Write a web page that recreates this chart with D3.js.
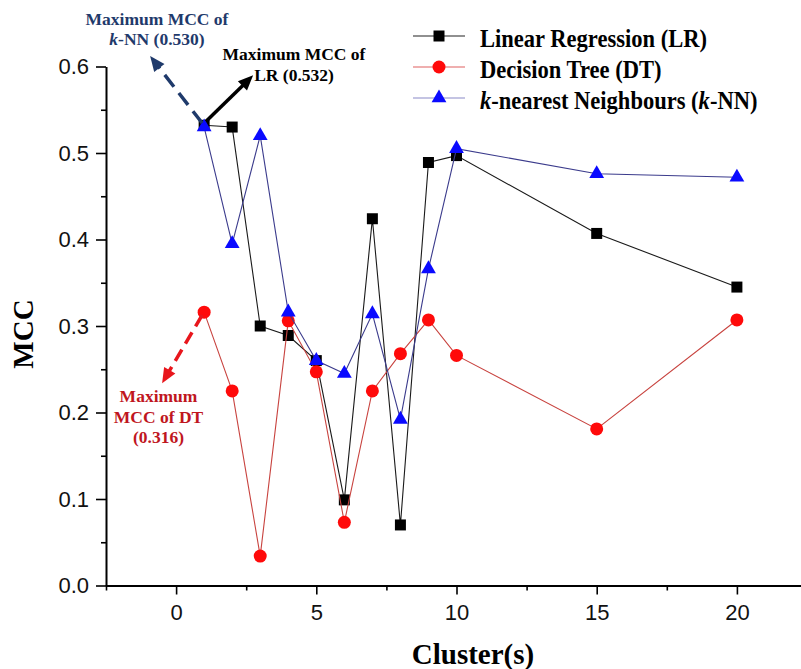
<!DOCTYPE html>
<html><head><meta charset="utf-8">
<script src="https://cdn.jsdelivr.net/npm/d3@7"></script>
<style>body{margin:0;background:#fff;overflow:hidden}</style>
</head><body>
<svg id="c" width="801" height="669" xmlns="http://www.w3.org/2000/svg"></svg>
<script>
// ---- data ----
const clusters   = [1, 2, 3, 4, 5, 6, 7, 8, 9, 10, 15, 20];
const lrValues   = [0.532, 0.530, 0.300, 0.289, 0.260, 0.099, 0.424, 0.070, 0.489, 0.497, 0.407, 0.345];
const dtValues   = [0.316, 0.225, 0.034, 0.306, 0.247, 0.073, 0.225, 0.268, 0.307, 0.266, 0.181, 0.307];
const knnValues  = [0.530, 0.395, 0.520, 0.316, 0.260, 0.245, 0.314, 0.192, 0.366, 0.505, 0.476, 0.472];
const seriesNames = ["Linear Regression (LR)", "Decision Tree (DT)", "k-nearest Neighbours (k-NN)"];
const xMajorTicks = [0, 5, 10, 15, 20];
const xMinorTicks = [-2.5, 2.5, 7.5, 12.5, 17.5, 22.5];
const yMajorTicks = [0, 0.1, 0.2, 0.3, 0.4, 0.5, 0.6];
const yMinorTicks = [0.05, 0.15, 0.25, 0.35, 0.45, 0.55];
const xTitle = "Cluster(s)";
const yTitle = "MCC";

// ---- layout ----
const SERIF = "'Liberation Serif','Times New Roman',serif";
const SANS = "'Liberation Sans',Arial,sans-serif";
const svg = d3.select("#c");
const x = d3.scaleLinear().domain([-2.5, 22.5]).range([106, 807]);
const y = d3.scaleLinear().domain([0, 0.6]).range([585.5, 66.5]);

// ---- axes ----
function styleAxis(g) {
  g.select(".domain").attr("stroke", "#000").attr("stroke-width", 2);
  g.selectAll(".tick line").attr("stroke", "#000").attr("stroke-width", 1.6);
  g.selectAll("text").attr("font-family", SANS).attr("font-size", 22).attr("fill", "#111");
}
// minor ticks
svg.append("g").attr("transform", `translate(0,${y(0)})`)
  .call(d3.axisBottom(x).tickValues(xMinorTicks).tickSize(5).tickFormat(""))
  .call(g => { styleAxis(g); g.select(".domain").remove(); });
svg.append("g").attr("transform", `translate(${x(-2.5)},0)`)
  .call(d3.axisLeft(y).tickValues(yMinorTicks).tickSize(5).tickFormat(""))
  .call(g => { styleAxis(g); g.select(".domain").remove(); });
// major
svg.append("g").attr("transform", `translate(0,${y(0)})`)
  .call(d3.axisBottom(x).tickValues(xMajorTicks).tickSize(9).tickSizeOuter(0).tickPadding(10).tickFormat(d3.format("d")))
  .call(styleAxis);
svg.append("g").attr("transform", `translate(${x(-2.5)},0)`)
  .call(d3.axisLeft(y).tickValues(yMajorTicks).tickSize(10).tickSizeOuter(0).tickPadding(7).tickFormat(d3.format(".1f")))
  .call(styleAxis);

// axis titles
svg.append("text").attr("x", 473).attr("y", 664).attr("text-anchor", "middle")
  .attr("font-family", SERIF).attr("font-weight", "bold").attr("font-size", 29).text(xTitle);
svg.append("text").attr("transform", "translate(33,334) rotate(-90)").attr("text-anchor", "middle")
  .attr("font-family", SERIF).attr("font-weight", "bold").attr("font-size", 29).text(yTitle);

// ---- series ----
const symSquare = d3.symbol().type(d3.symbolSquare).size(121);
const symCircle = d3.symbol().type(d3.symbolCircle).size(Math.PI * 6.5 * 6.5);
const symTri = d3.symbol().type(d3.symbolTriangle).size(95);
const series = [
  { name: seriesNames[0], values: lrValues, line: "#1a1a1a", fill: "#000000", sym: symSquare, legLine: "#222" },
  { name: seriesNames[1], values: dtValues, line: "#c8433f", fill: "#ff0a0a", sym: symCircle, legLine: "#e06060" },
  { name: seriesNames[2], values: knnValues, line: "#3b3b8c", fill: "#0a0aff", sym: symTri, legLine: "#8a8ac8" }
];
const line = d3.line().x(d => x(d[0])).y(d => y(d[1]));
series.forEach(s => {
  const pts = clusters.map((c, i) => [c, s.values[i]]);
  svg.append("path").attr("d", line(pts)).attr("fill", "none").attr("stroke", s.line).attr("stroke-width", 1.1);
  svg.append("g").selectAll("path").data(pts).join("path")
    .attr("transform", d => `translate(${x(d[0])},${y(d[1])})`)
    .attr("d", s.sym).attr("fill", s.fill);
});

// ---- legend ----
const legRows = [36, 67, 98];
series.forEach((s, i) => {
  const cy = legRows[i];
  svg.append("line").attr("x1", 413).attr("x2", 465).attr("y1", cy).attr("y2", cy)
    .attr("stroke", s.legLine).attr("stroke-width", 1.2);
  svg.append("path").attr("transform", `translate(439,${cy})`).attr("d", s.sym).attr("fill", s.fill);
  const t = svg.append("text").attr("transform", `translate(480,${cy + 10.5}) scale(0.92,1)`)
    .attr("font-family", SERIF).attr("font-weight", "bold").attr("font-size", 24.5).attr("fill", "#000");
  if (i === 2) {
    t.append("tspan").attr("font-style", "italic").text("k");
    t.append("tspan").text("-nearest Neighbours (");
    t.append("tspan").attr("font-style", "italic").text("k");
    t.append("tspan").text("-NN)");
  } else {
    t.text(s.name);
  }
});

// ---- annotations ----
function arrow(x0, y0, x1, y1, color, dash, w) {
  const ang = Math.atan2(y1 - y0, x1 - x0);
  const L = 15, W = 6.5;
  const bx = x1 - L * Math.cos(ang), by = y1 - L * Math.sin(ang);
  svg.append("line").attr("x1", x0).attr("y1", y0).attr("x2", bx + 2 * Math.cos(ang)).attr("y2", by + 2 * Math.sin(ang))
    .attr("stroke", color).attr("stroke-width", w).attr("stroke-dasharray", dash || null);
  const px = -Math.sin(ang), py = Math.cos(ang);
  svg.append("path").attr("d", `M${x1},${y1}L${bx + W * px},${by + W * py}L${bx - W * px},${by - W * py}Z`)
    .attr("fill", color);
}
const NAVY = "#1f3a6b", DARKRED = "#c0161e";
const iL = 0; // cluster index of maximum
// k-NN max
arrow(x(clusters[iL]) - 2, y(knnValues[iL]) - 4, x(clusters[iL]) - 54, y(knnValues[iL]) - 71, NAVY, "15,8", 3.5);
// LR max
arrow(x(clusters[iL]) + 2, y(lrValues[iL]) - 4, x(clusters[iL]) + 49, y(lrValues[iL]) - 50, "#000", null, 3.5);
// DT max
arrow(x(clusters[iL]) - 2, y(dtValues[iL]) + 3, x(clusters[iL]) - 42, y(dtValues[iL]) + 71, "#e8161c", "13,7", 3.5);

function label(lines, cx, y0, dy, color) {
  lines.forEach((ln, i) => {
    const t = svg.append("text").attr("x", cx).attr("y", y0 + i * dy).attr("text-anchor", "middle")
      .attr("font-family", SERIF).attr("font-weight", "bold").attr("font-size", 17.5).attr("fill", color);
    ln.forEach(part => t.append("tspan").attr("font-style", part.it ? "italic" : null).text(part.t));
  });
}
label([[{t: "Maximum MCC of"}], [{t: "k", it: true}, {t: "-NN (" + knnValues[iL].toFixed(3) + ")"}]], 157, 25, 20, NAVY);
label([[{t: "Maximum MCC of"}], [{t: "LR (" + lrValues[iL].toFixed(3) + ")"}]], 294, 60, 21, "#000");
label([[{t: "Maximum"}], [{t: "MCC of DT"}], [{t: "(" + dtValues[iL].toFixed(3) + ")"}]], 158.5, 402, 20.5, DARKRED);
</script>
</body></html>
